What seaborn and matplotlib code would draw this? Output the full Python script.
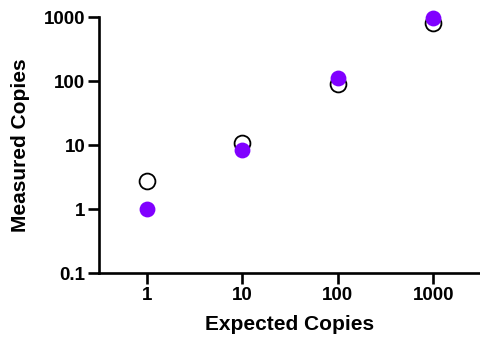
import numpy as np
import pandas as pd
import matplotlib
matplotlib.use("Agg")
import matplotlib.pyplot as plt
import seaborn as sns

# valores
expected = [1, 10, 100, 1000]
measured_open = [2.75, 10.9, 90, 815]
measured_filled = [1.0, 8.4, 110, 960]

df = pd.DataFrame({
    "Expected": expected * 2,
    "Measured": measured_open + measured_filled,
    "Serie": ["open"] * 4 + ["filled"] * 4,
})

sns.set_style("ticks")
plt.rcParams["font.family"] = ["Liberation Sans", "DejaVu Sans"]
plt.rcParams["font.weight"] = "bold"
plt.rcParams["text.color"] = "black"
plt.rcParams["axes.labelcolor"] = "black"

fig = plt.figure(figsize=(4.81, 3.4), dpi=100)
ax = fig.add_axes([0.206, 0.197, 0.794, 0.753])

sns.scatterplot(data=df[df["Serie"] == "open"], x="Expected", y="Measured",
                ax=ax, s=130, facecolor="white", edgecolor="black",
                linewidth=1.3, zorder=3, clip_on=False)
sns.scatterplot(data=df[df["Serie"] == "filled"], x="Expected", y="Measured",
                ax=ax, s=130, color="#8000ff", edgecolor="#8000ff",
                linewidth=0, zorder=4, clip_on=False)

ax.set_xscale("log")
ax.set_yscale("log")
ax.set_xlim(10 ** -0.5, 10 ** 3.5)
ax.set_ylim(0.1, 1000)
ax.set_xticks(expected)
ax.set_xticklabels(["1", "10", "100", "1000"])
ax.set_yticks([0.1, 1, 10, 100, 1000])
ax.set_yticklabels(["0.1", "1", "10", "100", "1000"])
ax.minorticks_off()

sns.despine(ax=ax)
for s in ["left", "bottom"]:
    ax.spines[s].set_linewidth(1.9)
    ax.spines[s].set_color("black")
ax.tick_params(axis="both", width=1.9, length=8, labelsize=13.5, pad=2,
               colors="black", labelcolor="black")

ax.set_xlabel("Expected Copies", fontsize=15, fontweight="bold", labelpad=8, color="black")
ax.set_ylabel("Measured Copies", fontsize=15, fontweight="bold", labelpad=10, color="black")

plt.savefig("out.png", dpi=100)
